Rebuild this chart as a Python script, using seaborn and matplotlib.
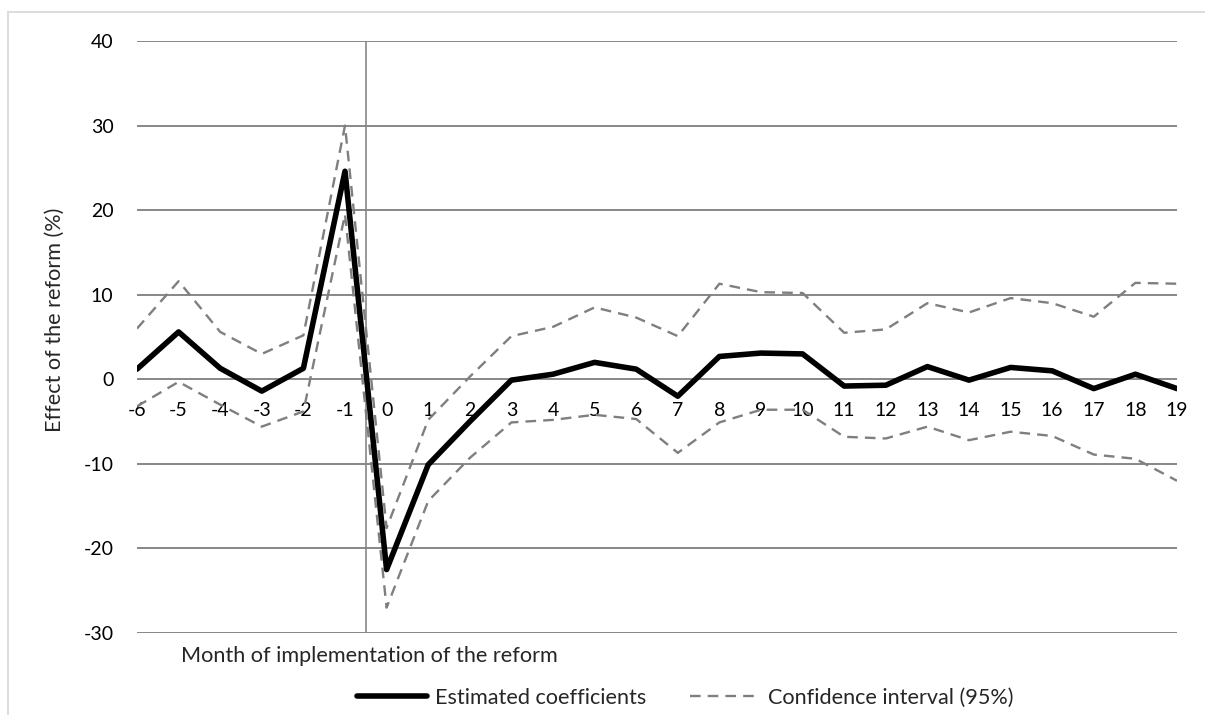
import matplotlib
matplotlib.use("Agg")
import matplotlib.pyplot as plt
import matplotlib.patches as mpatches
from matplotlib.lines import Line2D
import seaborn as sns
import pandas as pd

months = list(range(-6, 20))
coef = [1.2, 5.6, 1.3, -1.4, 1.3, 24.6, -22.5, -10.1, -5.0, -0.1, 0.6, 2.0, 1.2,
        -2.0, 2.7, 3.1, 3.0, -0.8, -0.7, 1.5, -0.1, 1.4, 1.0, -1.1, 0.6, -1.1]
upper = [6.0, 11.6, 5.6, 3.0, 5.2, 30.0, -17.6, -4.8, 0.3, 5.1, 6.2, 8.5, 7.3,
         5.1, 11.3, 10.3, 10.2, 5.5, 5.9, 9.0, 7.9, 9.6, 9.0, 7.4, 11.4, 11.3]
lower = [-3.2, -0.3, -3.0, -5.6, -3.8, 19.5, -27.0, -14.4, -9.3, -5.1, -4.8, -4.2, -4.7,
         -8.7, -5.1, -3.6, -3.6, -6.8, -7.0, -5.6, -7.2, -6.2, -6.7, -8.9, -9.4, -12.0]
yticks = [-30, -20, -10, 0, 10, 20, 30, 40]

df = pd.DataFrame({"month": months, "coef": coef, "upper": upper, "lower": lower})

sns.set_style("white")
plt.rcParams["font.family"] = ["Lato", "DejaVu Sans"]

W, H = 1205, 715
fig = plt.figure(figsize=(W / 100, H / 100), dpi=100)
ax = fig.add_axes([137 / W, 1 - 633 / H, 1040 / W, 592 / H])

grid_c = "#878787"
for v in yticks:
    ax.axhline(v, color=grid_c, lw=1.4, zorder=0)
ax.axvline(-0.5, color=grid_c, lw=1.2, zorder=0)

dash_style = (0, (4.5, 3.0))
ci_c = "#7f7f7f"
sns.lineplot(data=df, x="month", y="upper", ax=ax, color=ci_c, lw=1.7,
             linestyle=dash_style)
sns.lineplot(data=df, x="month", y="lower", ax=ax, color=ci_c, lw=1.7,
             linestyle=dash_style)
sns.lineplot(data=df, x="month", y="coef", ax=ax, color="black", lw=4.0)

ax.set_xlim(-6, 19)
ax.set_ylim(-30, 40)
ax.set_yticks(yticks)
ax.set_yticklabels([str(v) for v in yticks])
ax.set_xticks(months)
ax.set_xticklabels([str(m) for m in months])
for s in ax.spines.values():
    s.set_visible(False)
ax.spines["bottom"].set_position(("data", 0))
ax.tick_params(axis="y", length=0, pad=17, labelsize=14, labelcolor="black")
ax.tick_params(axis="x", length=0, pad=16.5, labelsize=14, labelcolor="black")
ax.set_xlabel("")
ax.set_ylabel("")

fig.text(55 / W, 1 - 320 / H, "Effect of the reform (%)", rotation=90,
         ha="center", va="center", fontsize=15.6)
fig.text(181 / W, 1 - 656 / H, "Month of implementation of the reform",
         ha="left", va="center", fontsize=15.6)

handles = [Line2D([], [], color="black", lw=4.0),
           Line2D([], [], color=ci_c, lw=1.7, linestyle=dash_style)]
fig.legend(handles, ["Estimated coefficients", "Confidence interval (95%)"],
           loc="center", bbox_to_anchor=(685 / W, 1 - 698 / H), ncol=2,
           frameon=False, fontsize=15.6, handlelength=3.25, handletextpad=0.35,
           columnspacing=2.0)

fig.patches.append(mpatches.Rectangle((8 / W, -0.05), 1.2, 1 - 12 / H + 0.05,
                                      transform=fig.transFigure, fill=False,
                                      edgecolor="#d9d9d9", lw=1.3))

fig.savefig("out.png", dpi=100)
